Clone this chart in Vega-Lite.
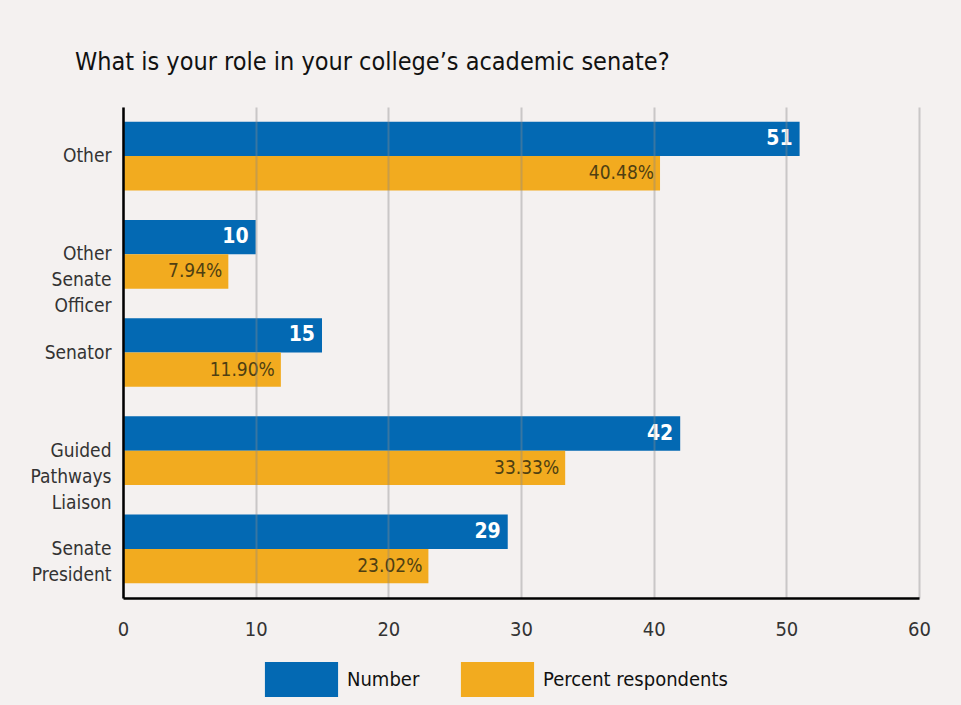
{
  "$schema": "https://vega.github.io/schema/vega-lite/v6.json",
  "width": 796,
  "height": 491,
  "autosize": {"type": "none"},
  "padding": {"left": 123, "top": 107, "right": 42, "bottom": 107},
  "background": "#f4f1f0",
  "config": {"font": "DejaVu Sans Condensed, DejaVu Sans, sans-serif", "view": {"stroke": null}},
  "title": {
    "text": "What is your role in your college’s academic senate?",
    "anchor": "start",
    "frame": "group",
    "dx": -48,
    "offset": 32,
    "fontSize": 25,
    "fontWeight": "normal",
    "color": "#111111"
  },
  "data": {
    "values": [
      {"role": "Other", "series": "Number", "value": 51, "label": "51"},
      {"role": "Other", "series": "Percent respondents", "value": 40.48, "label": "40.48%"},
      {"role": "Other Senate Officer", "series": "Number", "value": 10, "label": "10"},
      {"role": "Other Senate Officer", "series": "Percent respondents", "value": 7.94, "label": "7.94%"},
      {"role": "Senator", "series": "Number", "value": 15, "label": "15"},
      {"role": "Senator", "series": "Percent respondents", "value": 11.9, "label": "11.90%"},
      {"role": "Guided Pathways Liaison", "series": "Number", "value": 42, "label": "42"},
      {"role": "Guided Pathways Liaison", "series": "Percent respondents", "value": 33.33, "label": "33.33%"},
      {"role": "Senate President", "series": "Number", "value": 29, "label": "29"},
      {"role": "Senate President", "series": "Percent respondents", "value": 23.02, "label": "23.02%"}
    ]
  },
  "encoding": {
    "y": {
      "field": "role",
      "type": "nominal",
      "sort": ["Other", "Other Senate Officer", "Senator", "Guided Pathways Liaison", "Senate President"],
      "scale": {"paddingInner": 0.3, "paddingOuter": 0.15},
      "axis": {
        "title": null,
        "ticks": false,
        "domainColor": "#000000",
        "domainWidth": 2.5,
        "labelFontSize": 19,
        "labelColor": "#333333",
        "labelPadding": 12,
        "labelLineHeight": 26,
        "labelExpr": "split(datum.label, ' ')",
        "zindex": 1
      }
    },
    "x": {
      "field": "value",
      "type": "quantitative",
      "scale": {"domain": [0, 60]},
      "axis": {
        "title": null,
        "values": [0, 10, 20, 30, 40, 50, 60],
        "grid": true,
        "gridColor": "#8a8a8a",
        "gridOpacity": 0.4,
        "gridWidth": 2,
        "ticks": false,
        "domainColor": "#000000",
        "domainWidth": 2.5,
        "labelFontSize": 20,
        "labelColor": "#333333",
        "labelPadding": 21,
        "labelFlush": false,
        "zindex": 1
      }
    },
    "yOffset": {
      "field": "series",
      "type": "nominal",
      "scale": {"domain": ["Number", "Percent respondents"]}
    }
  },
  "layer": [
    {
      "mark": {"type": "bar"},
      "encoding": {
        "color": {
          "field": "series",
          "type": "nominal",
          "scale": {"domain": ["Number", "Percent respondents"], "range": ["#0369b3", "#f2ab1f"]},
          "legend": {
            "orient": "none",
            "legendX": 161,
            "legendY": 555,
            "direction": "horizontal",
            "title": null,
            "padding": 0,
            "symbolType": "M-2.09,-1H2.09V1H-2.09Z",
            "symbolSize": 1225,
            "symbolStrokeWidth": 0,
            "symbolOpacity": 1,
            "labelFontSize": 20,
            "labelColor": "#111111",
            "labelOffset": 28,
            "labelLimit": 400,
            "columnPadding": 40
          }
        }
      }
    },
    {
      "transform": [{"filter": "datum.series === 'Number'"}],
      "mark": {"type": "text", "align": "right", "baseline": "middle", "dx": -7, "color": "#ffffff", "fontWeight": "bold", "fontSize": 21},
      "encoding": {"text": {"field": "label"}}
    },
    {
      "transform": [{"filter": "datum.series !== 'Number'"}],
      "mark": {"type": "text", "align": "right", "baseline": "middle", "dx": -6, "color": "#4f3f12", "fontSize": 19},
      "encoding": {"text": {"field": "label"}}
    }
  ]
}
